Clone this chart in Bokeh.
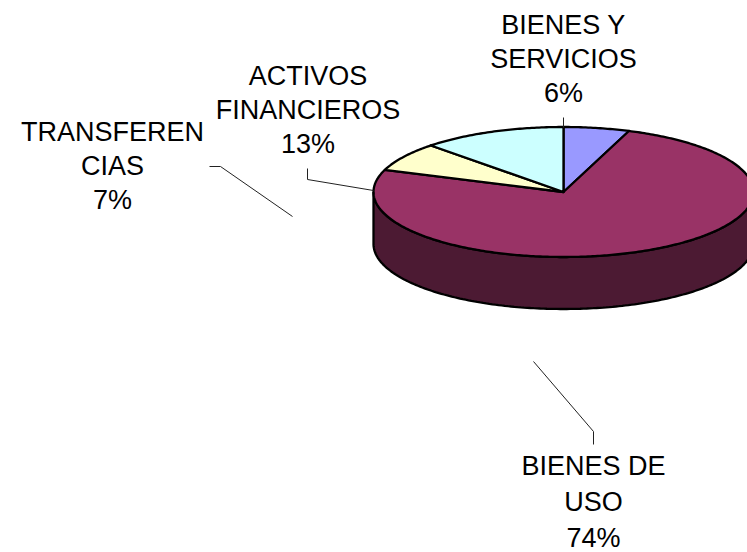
import numpy as np
from bokeh.plotting import figure
from bokeh.models import Range1d, ColumnDataSource
from bokeh.embed import file_html
from bokeh.resources import INLINE
from bokeh.core.properties import value

# Data
categories = ["BIENES Y SERVICIOS", "BIENES DE USO", "TRANSFERENCIAS", "ACTIVOS FINANCIEROS"]
slice_values = [5.6, 74.9, 7.2, 12.3]
slice_colors = ["#9999FF", "#993366", "#FFFFCC", "#CCFFFF"]
side_color = "#4C1A33"
label_lines = [["BIENES Y", "SERVICIOS", "6%"],
               ["BIENES DE", "USO", "74%"],
               ["TRANSFEREN", "CIAS", "7%"],
               ["ACTIVOS", "FINANCIEROS", "13%"]]
label_x = [563, 593, 112, 307.5]
label_y0 = [24, 465, 131, 75]
line_steps = [34.3, 36, 34.3, 34.3]
leader_xs = [[563, 563], [533, 593, 593], [209, 220, 292], [307, 307, 373]]
leader_ys = [[117, 127], [361, 431, 444], [166, 166, 216], [168, 179, 190]]

# Pie layout
cx, cy, rx, ry, depth = 563, 191.5, 190, 65, 52

p = figure(width=747, height=552, output_backend="svg", toolbar_location=None,
           x_range=Range1d(0, 747), y_range=Range1d(552, 0), min_border=0,
           outline_line_color=None)
p.axis.visible = False
p.grid.visible = False

# Side wall of the disc (front half)
t = np.linspace(np.pi, 0, 181)
side_x = np.concatenate([cx + rx * np.cos(t), (cx + rx * np.cos(t))[::-1]])
side_y = np.concatenate([cy + ry * np.sin(t), (cy + depth + ry * np.sin(t))[::-1]])
p.patch(side_x, side_y, fill_color=side_color, line_color="black", line_width=2.3)

# Top face slices, clockwise from twelve o'clock
edges = np.cumsum([0] + slice_values) / sum(slice_values) * 2 * np.pi
xs, ys = [], []
for a, b in zip(edges[:-1], edges[1:]):
    th = np.linspace(a, b, max(3, int((b - a) * 80)))
    xs.append(np.concatenate([[cx], cx + rx * np.sin(th)]))
    ys.append(np.concatenate([[cy], cy - ry * np.cos(th)]))
src = ColumnDataSource(dict(xs=xs, ys=ys, color=slice_colors, name=categories))
p.patches("xs", "ys", source=src, fill_color="color", line_color="black", line_width=2.3,
          line_join="round")

# Leader lines
p.multi_line(leader_xs, leader_ys, line_color="#222222", line_width=1)

# Labels, one text per line
tx, ty, tt = [], [], []
for lines, x, y0, step in zip(label_lines, label_x, label_y0, line_steps):
    for i, s in enumerate(lines):
        tx.append(x)
        ty.append(y0 + i * step)
        tt.append(s)
p.text(tx, ty, text=tt, text_font=value("Liberation Sans"), text_font_size="27px",
       text_align="center", text_baseline="alphabetic", text_color="black")

open("out.html", "w").write(file_html(p, INLINE))
